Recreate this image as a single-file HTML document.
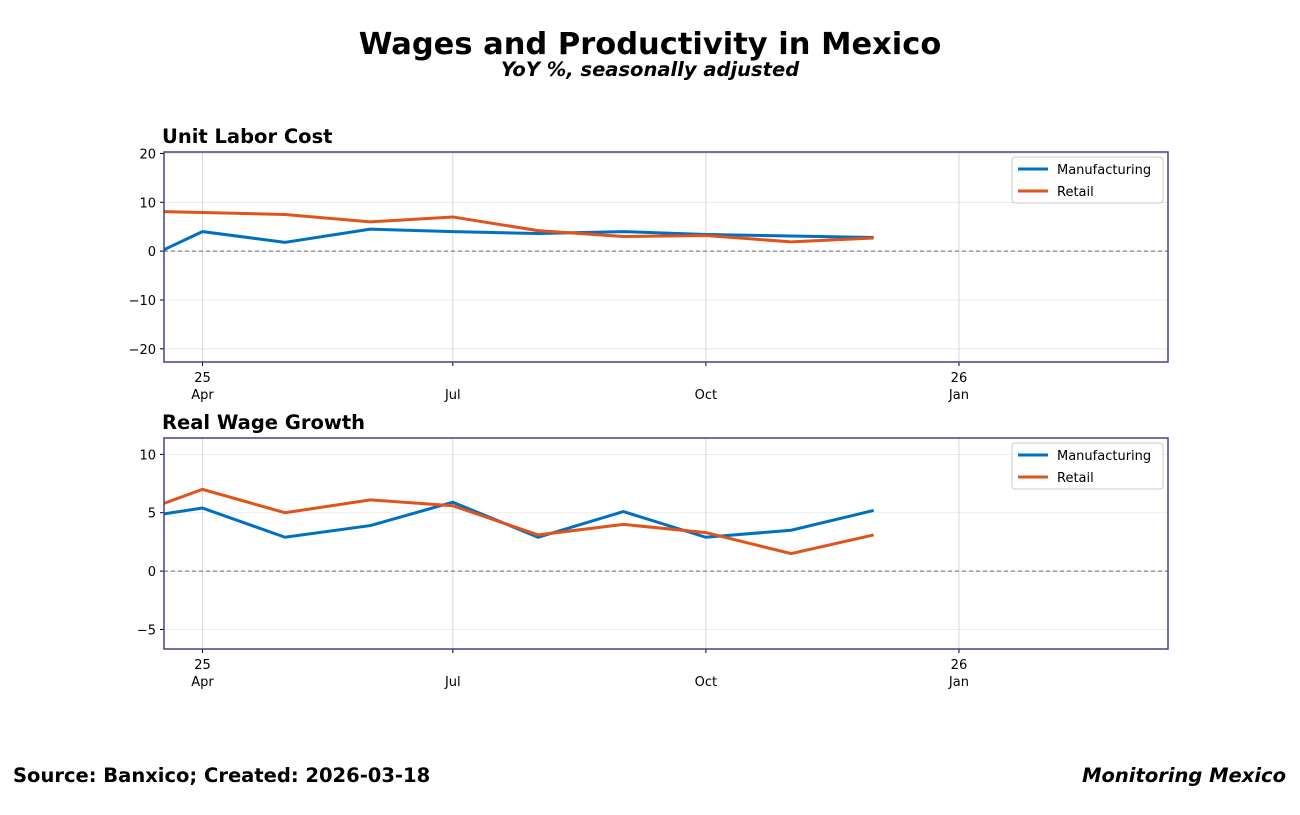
<!DOCTYPE html>
<html><head><meta charset="utf-8"><style>
body{margin:0;background:#fff;font-family:"Liberation Sans","DejaVu Sans",sans-serif}
svg text{font-family:"DejaVu Sans","Liberation Sans",sans-serif}
</style></head><body>
<svg id="c" width="1300" height="810">
<text x="650" y="54" text-anchor="middle" font-size="30.5" font-weight="bold">Wages and Productivity in Mexico</text>
<text x="650" y="76" text-anchor="middle" font-size="19.5" font-weight="bold" font-style="italic">YoY %, seasonally adjusted</text>
<text x="13" y="782" font-size="19.5" font-weight="bold">Source: Banxico; Created: 2026-03-18</text>
<text x="1286" y="782" text-anchor="end" font-size="19.5" font-weight="bold" font-style="italic">Monitoring Mexico</text>
</svg>
<script>
const dates=["2025-03-18","2025-04-01","2025-05-01","2025-06-01","2025-07-01","2025-08-01","2025-09-01","2025-10-01","2025-11-01","2025-12-01"];
const ulcManufacturing=[0.3,4.0,1.8,4.5,4.0,3.6,4.0,3.4,3.1,2.8];
const ulcRetail=[8.1,7.9,7.5,6.0,7.0,4.2,3.0,3.2,1.9,2.7];
const rwgManufacturing=[4.9,5.4,2.9,3.9,5.9,2.9,5.1,2.9,3.5,5.2];
const rwgRetail=[5.8,7.0,5.0,6.1,5.6,3.1,4.0,3.3,1.5,3.1];
const ulcTicks=[-20,-10,0,10,20];
const rwgTicks=[-5,0,5,10];
const xTicks=[["2025-04-01","25","Apr"],["2025-07-01","","Jul"],["2025-10-01","","Oct"],["2026-01-01","26","Jan"]];
const svg=document.getElementById('c');const NS="http://www.w3.org/2000/svg";
function mk(t,a,p){const e=document.createElementNS(NS,t);for(const k in a)e.setAttribute(k,a[k]);(p||svg).appendChild(e);return e;}
const X0=164,X1=1168,d0=Date.parse("2025-03-18"),d1=Date.parse("2026-03-18");
const xs=d=>X0+(Date.parse(d)-d0)/(d1-d0)*(X1-X0);
function panel(name,title,top,bot,ymin,ymax,ticks,m,r){
 const g=mk('g',{});
 const ys=v=>bot-(v-ymin)/(ymax-ymin)*(bot-top);
 const t=mk('text',{x:162,y:top-9,'font-size':19.5,'font-weight':'bold'},g);t.textContent=title;
 
 ticks.forEach(v=>{const y=ys(v);mk('line',{x1:X0,x2:X1,y1:y,y2:y,stroke:'#e6e6e6','stroke-width':0.8},g);
  mk('line',{x1:X0-4,x2:X0,y1:y,y2:y,stroke:'#000'},g);
  const l=mk('text',{x:X0-8,y:y+5,'text-anchor':'end','font-size':13},g);l.textContent=v<0?'\u2212'+(-v):v;
  });
 xTicks.forEach(([d,a,b])=>{const x=xs(d);mk('line',{x1:x,x2:x,y1:top,y2:bot,stroke:'#cfcfcf','stroke-width':0.8},g);
  mk('line',{x1:x,x2:x,y1:bot,y2:bot+4,stroke:'#000'},g);
  const l1=mk('text',{x:x,y:bot+20,'text-anchor':'middle','font-size':13},g);l1.textContent=a;
  
  const l2=mk('text',{x:x,y:bot+37,'text-anchor':'middle','font-size':13},g);l2.textContent=b;
  });
 mk('line',{x1:X0,x2:X1,y1:ys(0),y2:ys(0),stroke:'#666','stroke-dasharray':'4,3','stroke-width':1},g);
 [[m,'#0070c0','manufacturing'],[r,'#e0531a','retail']].forEach(([vals,c,n])=>{
  const p=mk('polyline',{points:vals.map((v,i)=>xs(dates[i])+','+ys(v)).join(' '),fill:'none',stroke:c,'stroke-width':3},g);
  });
 mk('rect',{x:X0,y:top,width:X1-X0,height:bot-top,fill:'none',stroke:'#4b3f8a','stroke-width':1.5},g);
 const lg=mk('g',{},g);
 mk('rect',{x:1012,y:top+5,width:151,height:46,rx:3,fill:'#fff',stroke:'#ccc'},lg);
 [['Manufacturing','#0070c0'],['Retail','#e0531a']].forEach(([n,c],i)=>{const y=top+17+i*22;
  mk('line',{x1:1018,x2:1048,y1:y,y2:y,stroke:c,'stroke-width':3},lg);
  const l=mk('text',{x:1057,y:y+5,'font-size':13},lg);l.textContent=n;
  });
}
panel('unit-labor-cost','Unit Labor Cost',152,362,-22.7,20.3,ulcTicks,ulcManufacturing,ulcRetail);
panel('real-wage-growth','Real Wage Growth',438,649,-6.67,11.4,rwgTicks,rwgManufacturing,rwgRetail);
</script>
</body></html>
